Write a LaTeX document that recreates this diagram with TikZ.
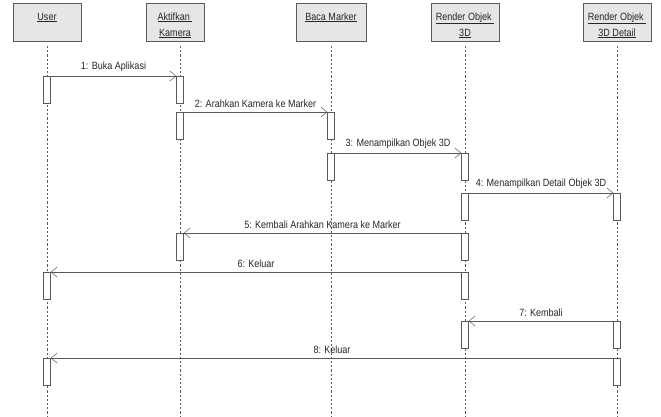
\documentclass[tikz,border=0pt]{standalone}
\usepackage{fontspec}
\setmainfont[FakeStretch=0.86]{Liberation Sans}
\usetikzlibrary{arrows.meta}
\definecolor{boxfill}{HTML}{E6E6E6}
\definecolor{ln}{HTML}{5A5A5A}
\newcommand{\tp}{\rule{0pt}{16pt}}
\begin{document}
\begin{tikzpicture}[x=1pt,y=-1pt,
  font=\fontsize{10.5}{12}\selectfont,
  head/.style={draw=ln,fill=boxfill,minimum height=37pt,align=center,inner sep=0.5pt,text=black!85,font=\fontsize{10.5}{16}\selectfont},
  act/.style={draw=ln,fill=white,minimum width=7pt,minimum height=27pt,inner sep=0pt,anchor=north},
  life/.style={draw=ln,dash pattern=on 2.2pt off 2pt,line width=0.6pt},
  msg/.style={draw=ln,line width=0.6pt,-{Straight Barb[length=6pt,width=10pt,line width=0.5pt]}},
  lbl/.style={midway,above,inner sep=4pt,text=black!85}]
\useasboundingbox (0,0) rectangle (661,416);
\fill[white] (0,0) rectangle (661,416);
% headers
\node[head,minimum width=68pt] (hu) at (47,22.5) {\tp\underline{User}\\\strut};
\node[head,minimum width=58pt] (hk) at (175,22.5) {\tp\underline{Aktifkan }\\\underline{Kamera}\strut};
\node[head,minimum width=70pt] (hb) at (331,22.5) {\tp\underline{Baca Marker}\\\strut};
\node[head,minimum width=68pt] (hr) at (465,22.5) {\tp\underline{Render Objek }\\\underline{3D}\strut};
\node[head,minimum width=68pt] (hd) at (617,22.5) {\tp\underline{Render Objek }\\\underline{3D Detail}\strut};
% lifeline ends
\coordinate (eu) at (47,416);
\coordinate (ek) at (180,416);
\coordinate (eb) at (331,416);
\coordinate (er) at (465,416);
\coordinate (ed) at (617,416);
\coordinate (su) at (47,46);
\coordinate (sk) at (180,46);
\coordinate (sb) at (331,46);
\coordinate (sr) at (465,46);
\coordinate (sd) at (617,46);
\draw[life] (su) -- (eu);
\draw[life] (sk) -- (ek);
\draw[life] (sb) -- (eb);
\draw[life] (sr) -- (er);
\draw[life] (sd) -- (ed);
% activations
\node[act] (u1) at (47,76) {};
\node[act] (u2) at (47,272) {};
\node[act] (u3) at (47,358) {};
\node[act] (k1) at (180,76) {};
\node[act] (k2) at (180,112) {};
\node[act] (k3) at (180,233) {};
\node[act] (b1) at (331,112) {};
\node[act] (b2) at (331,153) {};
\node[act] (r1) at (465,153) {};
\node[act] (r2) at (465,193) {};
\node[act] (r3) at (465,233) {};
\node[act] (r4) at (465,272) {};
\node[act] (r5) at (465,321) {};
\node[act] (d1) at (617,193) {};
\node[act] (d2) at (617,321) {};
\node[act] (d3) at (617,358) {};
% messages
\draw[msg] (u1.north east) -- node[lbl] {1: Buka Aplikasi} (k1.north west);
\draw[msg] (k2.north east) -- node[lbl] {2: Arahkan Kamera ke Marker} (b1.north west);
\draw[msg] (b2.north east) -- node[lbl] {3: Menampilkan Objek 3D} (r1.north west);
\draw[msg] (r2.north east) -- node[lbl] {4: Menampilkan Detail Objek 3D} (d1.north west);
\draw[msg] (r3.north west) -- node[lbl] {5: Kembali Arahkan Kamera ke Marker} (k3.north east);
\draw[msg] (r4.north west) -- node[lbl] {6: Keluar} (u2.north east);
\draw[msg] (d2.north west) -- node[lbl] {7: Kembali} (r5.north east);
\draw[msg] (d3.north west) -- node[lbl] {8: Keluar} (u3.north east);
\end{tikzpicture}
\end{document}
